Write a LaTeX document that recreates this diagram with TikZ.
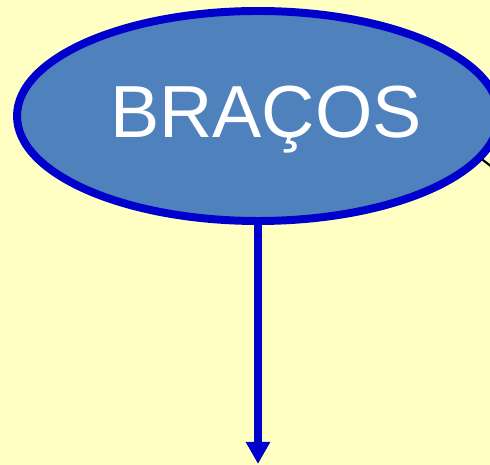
\documentclass[tikz,border=0pt]{standalone}
\usepackage{fontspec}
\setmainfont{Liberation Sans}
\usetikzlibrary{arrows.meta,positioning,shapes.geometric}
\definecolor{paper}{RGB}{255,255,196}
\definecolor{bodyfill}{RGB}{79,129,189}
\definecolor{rimblue}{RGB}{0,0,204}

\begin{document}
\begin{tikzpicture}[
  partshape/.style={ellipse, draw=rimblue, fill=bodyfill, line width=6.8pt,
                minimum width=14.46cm, minimum height=6.3cm},
  >={Triangle[width=0.69cm,length=0.66cm]}
]
\fill[paper] (0,0) rectangle (14.7,13.95);
\clip (0,0) rectangle (14.7,13.95);
\useasboundingbox (0,0) rectangle (14.7,13.95);

\node[partshape] (bracos) at (7.74, 10.47) {};
\node[anchor=base, text=white, font=\fontsize{63}{70}\selectfont] (lbl) at (7.98, 9.81) {BRAÇOS};

\coordinate (below) at (7.74, 0.03);
\coordinate (offright) at (15.0, 8.75);

\draw[->, rimblue, line width=6.8pt] (bracos.south) -- (below);
\draw[black, line width=1.8pt] (bracos.-11.5) -- (offright);

\end{tikzpicture}
\end{document}
